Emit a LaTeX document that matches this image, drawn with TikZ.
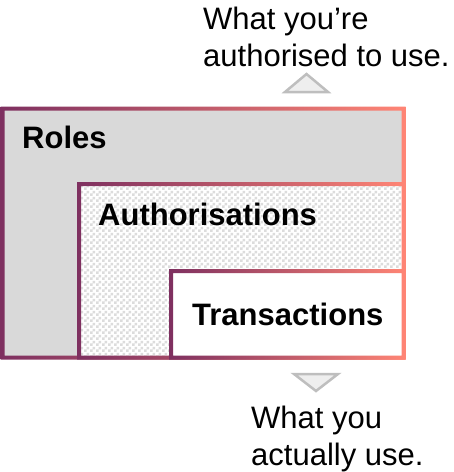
\documentclass[tikz,border=0pt]{standalone}
\usepackage{fontspec}
\setmainfont{Liberation Sans}
\usetikzlibrary{patterns}
\pgfdeclarepatternformonly{finechecker}{\pgfpointorigin}{\pgfqpoint{6pt}{6pt}}{\pgfqpoint{6pt}{6pt}}{%
  \pgfpathrectangle{\pgfpointorigin}{\pgfqpoint{3pt}{3pt}}%
  \pgfpathrectangle{\pgfqpoint{3pt}{3pt}}{\pgfqpoint{3pt}{3pt}}%
  \pgfusepath{fill}}
\definecolor{purp}{RGB}{126,48,96}
\definecolor{salm}{RGB}{255,133,117}
\definecolor{rolegray}{RGB}{217,217,217}
\definecolor{checkgray}{RGB}{220,220,220}
\definecolor{trifill}{RGB}{238,238,238}
\definecolor{triline}{RGB}{190,190,190}
\newcommand\gradframe[4]{%
  \shade[even odd rule, left color=purp, right color=salm]
    (#1-2,#2-2) rectangle (#3+2,#4+2) (#1+2,#2+2) rectangle (#3-2,#4-2);}
\begin{document}
\begin{tikzpicture}[x=1pt,y=-1pt,
  boxlabel/.style={font=\bfseries\fontsize{31}{37}\selectfont, inner sep=0pt, anchor=base west},
  note/.style={font=\fontsize{31}{37}\selectfont, inner sep=0pt, anchor=north west, align=left},
  marker/.style={fill=trifill, draw=triline, line width=2.5pt, line join=miter}]
\useasboundingbox (0,0) rectangle (454,472);
% Roles
\fill[rolegray] (2.5,108.5) rectangle (403.5,357.5);
\gradframe{2.5}{108.5}{403.5}{357.5}
% Authorisations
\fill[white] (79,184) rectangle (403.5,357.5);
\fill[pattern=finechecker, pattern color=checkgray] (79,184) rectangle (403.5,357.5);
\gradframe{79}{184}{403.5}{357.5}
% Transactions
\fill[white] (171,271) rectangle (403.5,357.5);
\gradframe{171}{271}{403.5}{357.5}
% labels
\node[boxlabel] (roles) at (22,148) {Roles};
\node[boxlabel] (auth) at (98,225) {Authorisations};
\node[boxlabel] (trans) at (192,325) {Transactions};
% triangles
\draw[marker] (285,92) -- (328,92) -- (306.5,74) -- cycle;
\draw[marker] (294,374) -- (338,374) -- (316,391) -- cycle;
% notes
\node[note] (top) at (203,7) {What you’re\\authorised to use.};
\node[note] (bottom) at (251,406) {What you\\actually use.};
\end{tikzpicture}
\end{document}
